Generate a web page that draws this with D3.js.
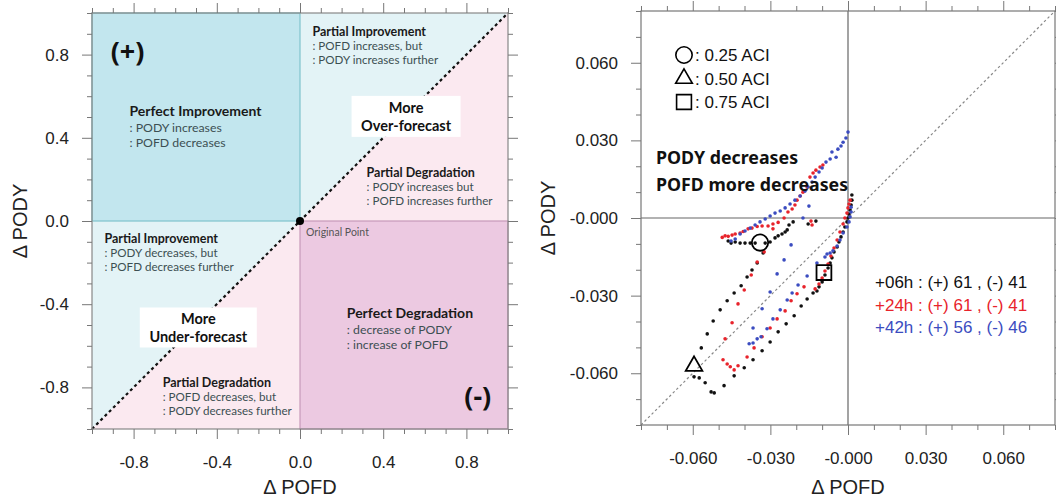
<!DOCTYPE html>
<html>
<head>
<meta charset="utf-8">
<script src="https://cdn.jsdelivr.net/npm/d3@7"></script>
<style>
  body { margin: 0; background: #fff; }
  svg { display: block; }
  .axis text { font-family: "Liberation Sans", Arial, sans-serif; fill: #222; }
  .note { font-family: Lato, "Noto Sans", sans-serif; }
  .big { font-family: "Noto Sans", sans-serif; }
</style>
</head>
<body>
<svg id="chart" width="1056" height="500"></svg>
<script>
// ---- left panel (schematic) ----
const leftMajor = [-0.8, -0.4, 0, 0.4, 0.8];
const leftMinor = [-1, -0.9, -0.7, -0.6, -0.5, -0.3, -0.2, -0.1, 0.1, 0.2, 0.3, 0.5, 0.6, 0.7, 0.9, 1];
const leftLabels = ["-0.8", "-0.4", "0.0", "0.4", "0.8"];

const quadrantNotes = [
  { x: -0.82, y: 0.505, title: "Perfect Improvement", lines: [": PODY increases", ": POFD decreases"], tsize: 14, size: 12.3, gaps: [16, 14.8] },
  { x: 0.06, y: 0.889, title: "Partial Improvement", lines: [": POFD increases, but", ": PODY increases further"], tsize: 12.5, size: 11.6, gaps: [14, 14] },
  { x: 0.32, y: 0.21, title: "Partial Degradation", lines: [": PODY increases but", ": POFD increases further"], tsize: 12.5, size: 11.6, gaps: [14, 14] },
  { x: -0.94, y: -0.106, title: "Partial Improvement", lines: [": PODY decreases, but", ": POFD decreases further"], tsize: 12.5, size: 11.6, gaps: [14, 14] },
  { x: -0.66, y: -0.798, title: "Partial Degradation", lines: [": POFD decreases, but", ": PODY decreases further"], tsize: 12.5, size: 11.6, gaps: [14, 14] },
  { x: 0.225, y: -0.466, title: "Perfect Degradation", lines: [": decrease of PODY", ": increase of POFD"], tsize: 14, size: 12.3, gaps: [16, 15] }
];
const forecastBoxes = [
  { x: 0.51, y: 0.503, w: 109, h: 41, lines: ["More", "Over-forecast"] },
  { x: -0.489, y: -0.512, w: 117, h: 40, lines: ["More", "Under-forecast"] }
];

// ---- right panel (scatter) ----
const rightMajor = [-0.06, -0.03, 0, 0.03, 0.06];
const rightMinor = [-0.08, -0.07, -0.05, -0.04, -0.02, -0.01, 0.01, 0.02, 0.04, 0.05, 0.07, 0.08];
const rightLabels = ["-0.060", "-0.030", "-0.000", "0.030", "0.060"];

const black06 = [
  [0.0015, 0.0089], [0.0015, 0.0069], [0.0012, 0.0050], [0.0008, 0.0031], [0.0004, 0.0015], [0.0000, 0.0000],
  [-0.0004, -0.0015], [-0.0012, -0.0035], [-0.0019, -0.0054], [-0.0027, -0.0073], [-0.0035, -0.0093],
  [-0.0042, -0.0112], [-0.0054, -0.0131], [-0.0062, -0.0154], [-0.0069, -0.0174], [-0.0077, -0.0193],
  [-0.0089, -0.0220], [-0.0100, -0.0247], [-0.0112, -0.0266], [-0.0120, -0.0282], [-0.0135, -0.0290],
  [-0.0158, -0.0313], [-0.0181, -0.0340], [-0.0208, -0.0378], [-0.0239, -0.0409], [-0.0270, -0.0440],
  [-0.0301, -0.0479], [-0.0332, -0.0513], [-0.0367, -0.0548], [-0.0401, -0.0579], [-0.0440, -0.0610],
  [-0.0479, -0.0648], [-0.0517, -0.0676], [-0.0529, -0.0672], [-0.0552, -0.0637], [-0.0575, -0.0618],
  [-0.0595, -0.0614], [-0.0567, -0.0502], [-0.0544, -0.0448], [-0.0521, -0.0398], [-0.0494, -0.0355],
  [-0.0467, -0.0320], [-0.0440, -0.0290], [-0.0413, -0.0262], [-0.0390, -0.0228], [-0.0371, -0.0201],
  [-0.0351, -0.0174], [-0.0328, -0.0135], [-0.0463, -0.0089], [-0.0452, -0.0097], [-0.0436, -0.0093],
  [-0.0417, -0.0097], [-0.0398, -0.0097], [-0.0378, -0.0097], [-0.0359, -0.0097], [-0.0320, -0.0097],
  [-0.0301, -0.0093], [-0.0282, -0.0077], [-0.0270, -0.0069], [-0.0255, -0.0062], [-0.0243, -0.0054],
  [-0.0235, -0.0046], [-0.0228, -0.0027], [-0.0212, -0.0015], [-0.0154, -0.0023], [-0.0124, -0.0012]
];
const red24 = [
  [-0.0486, -0.0075], [-0.0475, -0.0069], [-0.0463, -0.0071], [-0.0448, -0.0066], [-0.0436, -0.0062],
  [-0.0417, -0.0058], [-0.0405, -0.0052], [-0.0386, -0.0042], [-0.0371, -0.0039], [-0.0351, -0.0033],
  [-0.0332, -0.0031], [-0.0309, -0.0031], [-0.0290, -0.0023], [-0.0270, -0.0017], [-0.0247, 0.0000],
  [-0.0232, 0.0023], [-0.0216, 0.0035], [-0.0205, 0.0050], [-0.0197, 0.0069], [-0.0185, 0.0085],
  [-0.0174, 0.0100], [-0.0158, 0.0120], [-0.0147, 0.0158], [-0.0135, 0.0174], [-0.0124, 0.0185],
  [-0.0108, 0.0197], [-0.0097, 0.0205], [-0.0143, -0.0012], [-0.0139, -0.0027], [-0.0290, -0.0042],
  [0.0008, 0.0069], [0.0004, 0.0054], [0.0000, 0.0039], [-0.0004, 0.0019], [-0.0012, 0.0000],
  [-0.0019, -0.0023], [-0.0031, -0.0054], [-0.0042, -0.0085], [-0.0054, -0.0116], [-0.0066, -0.0147],
  [-0.0077, -0.0178], [-0.0089, -0.0205], [-0.0100, -0.0232], [-0.0112, -0.0255], [-0.0127, -0.0274],
  [-0.0170, -0.0266], [-0.0197, -0.0293], [-0.0220, -0.0320], [-0.0243, -0.0359], [-0.0274, -0.0390],
  [-0.0301, -0.0425], [-0.0332, -0.0459], [-0.0363, -0.0502], [-0.0390, -0.0537], [-0.0425, -0.0571],
  [-0.0440, -0.0587], [-0.0455, -0.0575], [-0.0467, -0.0564], [-0.0483, -0.0548],
  [-0.0324, -0.0131], [-0.0351, -0.0170], [-0.0374, -0.0220], [-0.0401, -0.0278], [-0.0425, -0.0332],
  [-0.0448, -0.0405], [-0.0475, -0.0467]
];
const blue42 = [
  [-0.0452, -0.0089], [-0.0436, -0.0081], [-0.0417, -0.0062], [-0.0398, -0.0050], [-0.0378, -0.0039],
  [-0.0359, -0.0027], [-0.0340, -0.0015], [-0.0320, -0.0004], [-0.0301, 0.0008], [-0.0282, 0.0019],
  [-0.0262, 0.0027], [-0.0243, 0.0039], [-0.0224, 0.0054], [-0.0205, 0.0069], [-0.0185, 0.0085],
  [-0.0166, 0.0104], [-0.0154, 0.0120], [-0.0139, 0.0139], [-0.0127, 0.0158], [-0.0112, 0.0178],
  [-0.0100, 0.0193], [-0.0085, 0.0216], [-0.0069, 0.0228], [-0.0062, 0.0255], [-0.0046, 0.0235],
  [-0.0039, 0.0266], [-0.0027, 0.0278], [-0.0019, 0.0293], [-0.0008, 0.0309], [0.0000, 0.0332],
  [-0.0151, 0.0046], [-0.0174, 0.0000], [-0.0220, -0.0104], [-0.0247, -0.0162], [-0.0274, -0.0216],
  [-0.0301, -0.0286], [-0.0332, -0.0351], [-0.0367, -0.0425], [-0.0336, -0.0459], [-0.0351, -0.0467],
  [-0.0367, -0.0483], [-0.0382, -0.0486],
  [-0.0313, -0.0428], [-0.0290, -0.0390], [-0.0262, -0.0355], [-0.0235, -0.0317], [-0.0216, -0.0290],
  [-0.0193, -0.0259], [-0.0158, -0.0224], [-0.0120, -0.0174], [-0.0089, -0.0151], [-0.0081, -0.0139],
  [-0.0069, -0.0135], [-0.0058, -0.0127], [-0.0042, -0.0108], [-0.0031, -0.0085], [-0.0019, -0.0058],
  [-0.0004, -0.0035], [0.0004, -0.0015], [0.0008, 0.0004], [0.0012, 0.0023], [0.0012, 0.0042]
];
const seriesNames = ["+06h", "+24h", "+42h"];
const seriesColors = ["#111111", "#e8232b", "#3b4cc0"];
const seriesCounts = ["(+) 61 , (-) 41", "(+) 61 , (-) 41", "(+) 56 , (-) 46"];

const aciNames = ["0.25 ACI", "0.50 ACI", "0.75 ACI"];
const aciShapes = ["circle", "triangle", "square"];
const aciPoints = [[-0.0340, -0.0095], [-0.0595, -0.0572], [-0.0093, -0.0211]];

const svg = d3.select("#chart");

// ===== left panel =====
const lx = d3.scaleLinear().domain([-1, 1]).range([92, 508]);
const ly = d3.scaleLinear().domain([-1, 1]).range([429, 13]);
const L = svg.append("g");

// upper-left triangle regions (cyan) and lower-right triangle regions (pink)
const poly = pts => pts.map(p => [lx(p[0]), ly(p[1])].join(",")).join(" ");
L.append("polygon").attr("points", poly([[-1, -1], [1, 1], [-1, 1]])).attr("fill", "#e3f3f6");
L.append("polygon").attr("points", poly([[-1, -1], [1, -1], [1, 1]])).attr("fill", "#fbe9f0");
L.append("rect").attr("x", lx(-1)).attr("y", ly(1)).attr("width", lx(0) - lx(-1)).attr("height", ly(0) - ly(1))
  .attr("fill", "#c2e6ee").attr("stroke", "#7fc3ce").attr("stroke-width", 1.2);
L.append("rect").attr("x", lx(0)).attr("y", ly(0)).attr("width", lx(1) - lx(0)).attr("height", ly(-1) - ly(0))
  .attr("fill", "#ecc9e1").attr("stroke", "#c79ab9").attr("stroke-width", 1.2);

// quadrant text, one text element per line
quadrantNotes.forEach(n => {
  const x = lx(n.x), y = ly(n.y);
  L.append("text").attr("class", "note").attr("x", x).attr("y", y)
    .attr("font-weight", "bold").attr("font-size", n.tsize).attr("fill", "#1a1a1a").text(n.title);
  let yy = y;
  n.lines.forEach((s, i) => {
    yy += n.gaps[i];
    L.append("text").attr("class", "note").attr("x", x).attr("y", yy)
      .attr("font-size", n.size).attr("fill", "#3c4f52").text(s);
  });
});

// diagonal
L.append("line").attr("x1", lx(-1)).attr("y1", ly(-1)).attr("x2", lx(1)).attr("y2", ly(1))
  .attr("stroke", "#111").attr("stroke-width", 2.2).attr("stroke-dasharray", "3,3");

forecastBoxes.forEach(b => {
  const cx = lx(b.x), cy = ly(b.y);
  L.append("rect").attr("x", cx - b.w / 2).attr("y", cy - b.h / 2).attr("width", b.w).attr("height", b.h).attr("fill", "#fff");
  b.lines.forEach((s, i) => {
    L.append("text").attr("class", "note").attr("x", cx).attr("y", cy - 3 + i * 17.5)
      .attr("text-anchor", "middle").attr("font-weight", "bold").attr("font-size", 14.5).attr("fill", "#111").text(s);
  });
});

L.append("circle").attr("cx", lx(0)).attr("cy", ly(0)).attr("r", 4).attr("fill", "#000");
L.append("text").attr("class", "note").attr("x", lx(0) + 6).attr("y", ly(0) + 15)
  .attr("font-size", 10.5).attr("fill", "#555").text("Original Point");
L.append("text").attr("class", "big").attr("x", lx(-0.91)).attr("y", ly(0.8) + 6)
  .attr("font-size", 27).attr("font-weight", "bold").attr("fill", "#111").text("(+)");
L.append("text").attr("class", "big").attr("x", lx(0.79)).attr("y", ly(-0.83) + 12)
  .attr("font-size", 27).attr("font-weight", "bold").attr("fill", "#111").text("(-)");

// frame
L.append("rect").attr("x", lx(-1)).attr("y", ly(1)).attr("width", lx(1) - lx(-1)).attr("height", ly(-1) - ly(1))
  .attr("fill", "none").attr("stroke", "#888").attr("stroke-width", 1.2);

// ===== right panel =====
const rx = d3.scaleLinear().domain([-0.08, 0.08]).range([641, 1055]);
const ry = d3.scaleLinear().domain([-0.08, 0.08]).range([425, 11]);
const R = svg.append("g");

R.append("line").attr("x1", rx(-0.08)).attr("y1", ry(-0.08)).attr("x2", rx(0.08)).attr("y2", ry(0.08))
  .attr("stroke", "#888").attr("stroke-width", 1.2).attr("stroke-dasharray", "2.5,2.5");
R.append("line").attr("x1", rx(0)).attr("x2", rx(0)).attr("y1", ry(0.08)).attr("y2", ry(-0.08)).attr("stroke", "#666").attr("stroke-width", 1.2);
R.append("line").attr("x1", rx(-0.08)).attr("x2", rx(0.08)).attr("y1", ry(0)).attr("y2", ry(0)).attr("stroke", "#666").attr("stroke-width", 1.2);

[black06, red24, blue42].forEach((s, i) => {
  R.append("g").selectAll("circle").data(s).join("circle")
    .attr("cx", d => rx(d[0])).attr("cy", d => ry(d[1])).attr("r", 1.8)
    .attr("fill", seriesColors[i]);
});

const shapePath = {
  circle: d3.symbol(d3.symbolCircle, 210),
  triangle: d3.symbol(d3.symbolTriangle, 120),
  square: d3.symbol(d3.symbolSquare, 220)
};
aciPoints.forEach((p, i) => {
  R.append("path").attr("d", shapePath[aciShapes[i]]())
    .attr("transform", `translate(${rx(p[0])},${ry(p[1])})`)
    .attr("fill", "none").attr("stroke", "#000").attr("stroke-width", 1.8);
});

// ACI legend
aciNames.forEach((s, i) => {
  const y = 55 + i * 23.5;
  R.append("path").attr("d", shapePath[aciShapes[i]]())
    .attr("transform", `translate(684,${y})`)
    .attr("fill", "none").attr("stroke", "#000").attr("stroke-width", 1.6);
  R.append("text").attr("x", 695).attr("y", y + 6).attr("font-family", "Liberation Sans, Arial, sans-serif")
    .attr("font-size", 17).attr("fill", "#111").text(": " + s);
});

R.append("text").attr("class", "big").attr("x", 656).attr("y", 164)
  .attr("font-size", 17.8).attr("font-weight", "bold").attr("fill", "#111").text("PODY decreases");
R.append("text").attr("class", "big").attr("x", 656).attr("y", 191)
  .attr("font-size", 17.8).attr("font-weight", "bold").attr("fill", "#111").text("POFD more decreases");

seriesNames.forEach((s, i) => {
  R.append("text").attr("x", 875).attr("y", 288 + i * 22.5)
    .attr("font-family", "Liberation Sans, Arial, sans-serif").attr("font-size", 17)
    .attr("fill", seriesColors[i]).text(`${s} : ${seriesCounts[i]}`);
});

R.append("rect").attr("x", rx(-0.08)).attr("y", ry(0.08)).attr("width", rx(0.08) - rx(-0.08)).attr("height", ry(-0.08) - ry(0.08))
  .attr("fill", "none").attr("stroke", "#777").attr("stroke-width", 1.2);

// ===== axes =====
function drawAxes(g, xs, ys, major, minor, labels) {
  const fmt = d => labels[major.indexOf(d)];
  const [x0, x1] = xs.range(), [y0, y1] = ys.range();
  const sets = [
    [d3.axisBottom(xs), `translate(0,${y0})`, true, 17],
    [d3.axisTop(xs), `translate(0,${y1})`, false, 9],
    [d3.axisLeft(ys), `translate(${x0},0)`, true, 13],
    [d3.axisRight(ys), `translate(${x1},0)`, false, 9]
  ];
  sets.forEach(([ax, tr, lab, pad]) => {
    g.append("g").attr("class", "axis").attr("transform", tr)
      .call(ax.tickValues(minor).tickSize(5).tickFormat(""))
      .call(a => a.select(".domain").remove())
      .call(a => a.selectAll("line").attr("stroke", "#777"));
    g.append("g").attr("class", "axis").attr("transform", tr)
      .call(ax.tickValues(major).tickSize(10).tickPadding(pad).tickFormat(lab ? fmt : ""))
      .call(a => a.select(".domain").remove())
      .call(a => a.selectAll("line").attr("stroke", "#777"))
      .call(a => a.selectAll("text").attr("font-size", 17));
  });
}
drawAxes(L, lx, ly, leftMajor, leftMinor, leftLabels);
drawAxes(R, rx, ry, rightMajor, rightMinor, rightLabels);

// axis titles
const titleFont = "Liberation Sans, Arial, sans-serif";
svg.append("text").attr("x", lx(0)).attr("y", 494).attr("text-anchor", "middle")
  .attr("font-family", titleFont).attr("font-size", 20).attr("fill", "#222").text("Δ POFD");
svg.append("text").attr("transform", `translate(27,${ly(0)}) rotate(-90)`).attr("text-anchor", "middle")
  .attr("font-family", titleFont).attr("font-size", 20).attr("fill", "#222").text("Δ PODY");
svg.append("text").attr("x", rx(0)).attr("y", 494).attr("text-anchor", "middle")
  .attr("font-family", titleFont).attr("font-size", 20).attr("fill", "#222").text("Δ POFD");
svg.append("text").attr("transform", `translate(555,${ry(0)}) rotate(-90)`).attr("text-anchor", "middle")
  .attr("font-family", titleFont).attr("font-size", 20).attr("fill", "#222").text("Δ PODY");
</script>
</body>
</html>
